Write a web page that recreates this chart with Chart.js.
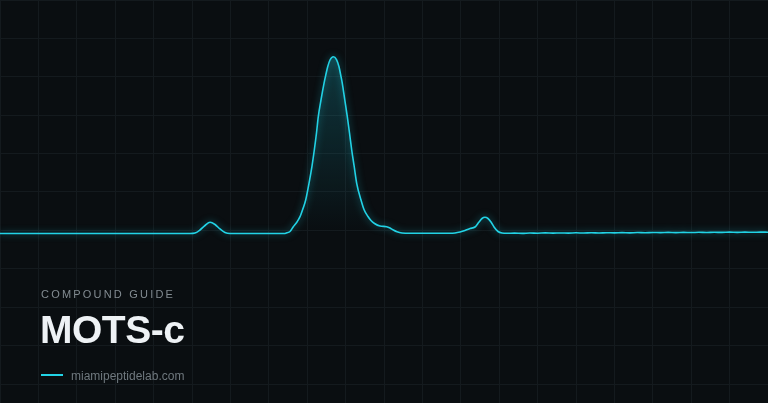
<!DOCTYPE html>
<html>
<head>
<meta charset="utf-8">
<script src="https://cdn.jsdelivr.net/npm/chart.js@4.4.1/dist/chart.umd.min.js"></script>
<style>
  html, body { margin: 0; padding: 0; background: #0a0e11; }
  #wrap { position: relative; width: 768px; height: 403px; overflow: hidden; }
  #chart { position: absolute; left: 0; top: 0; }
  .label { position: absolute; font-family: "Liberation Sans", Arial, sans-serif; white-space: nowrap; }
  #kicker { left: 41px; top: 289px; font-size: 11px; line-height: 11px; letter-spacing: 2.2px; color: #838c92; }
  #title { left: 40px; top: 310px; font-size: 39px; line-height: 39px; font-weight: bold; letter-spacing: -0.5px; color: #eef2f5; }
  #rule { position: absolute; left: 41px; top: 374px; width: 22px; height: 2px; background: #22d3e6; }
  #site { left: 71px; top: 370px; font-size: 12px; line-height: 12px; color: #6f787e; }
</style>
</head>
<body>
<div id="wrap">
  <canvas id="chart" width="768" height="403"></canvas>
  <div class="label" id="kicker">COMPOUND GUIDE</div>
  <div class="label" id="title">MOTS-c</div>
  <div id="rule"></div>
  <div class="label" id="site">miamipeptidelab.com</div>
</div>
<script>
// retention time (min) and detector signal (mAU)
const retentionTimes = [
  0, 2.5, 4.948, 5.078, 5.208, 5.339, 5.469, 5.599, 5.729, 5.859, 5.990,
  7.292, 7.396, 7.474, 7.552, 7.638, 7.734, 7.813, 7.891, 7.961, 8.047, 8.125,
  8.185, 8.242, 8.289, 8.359, 8.438, 8.490, 8.534, 8.594, 8.680, 8.763, 8.828,
  8.872, 8.914, 8.979, 9.044, 9.102, 9.159, 9.224, 9.289, 9.401, 9.479, 9.583,
  9.661, 9.753, 9.896, 10.070, 10.156, 10.242, 10.339, 10.469, 10.677,
  11.719, 11.849, 11.979, 12.109, 12.240, 12.370, 12.474, 12.552, 12.630,
  12.708, 12.786, 12.865, 12.969, 13.073, 13.203,
  13.4, 13.6, 13.8, 14.0, 14.2, 14.4, 14.6, 14.8, 15.0, 15.2, 15.4, 15.6,
  15.8, 16.0, 16.2, 16.4, 16.6, 16.8, 17.0, 17.2, 17.4, 17.6, 17.8, 18.0,
  18.2, 18.4, 18.6, 18.8, 19.0, 19.2, 19.4, 19.6, 19.8, 20.0
]
const signal = [
  -1.61, -1.61, -1.61, -1.35, 0.21, 2.55, 4.22, 3.07, 0.73, -1.09, -1.61,
  -1.61, -1.61, -1.20, -0.57, 1.93, 4.38, 7.14, 11.41, 15.83, 24.53, 33.54,
  41.88, 50.73, 59.22, 67.92, 76.61, 81.46, 85.26, 88.75, 90.47, 89.01, 85.26,
  80.94, 76.61, 67.92, 59.22, 50.73, 41.88, 33.28, 24.53, 15.83, 10.89, 7.24,
  5.16, 3.59, 2.29, 1.93, 1.25, 0.21, -0.73, -1.35, -1.51,
  -1.51, -1.35, -0.83, -0.05, 0.99, 1.77, 4.38, 6.20, 6.82,
  6.20, 4.38, 1.77, -0.57, -1.35, -1.51,
  -1.42, -1.55, -1.38, -1.47, -1.30, -1.44, -1.33, -1.41, -1.26, -1.37, -1.22, -1.34,
  -1.19, -1.29, -1.15, -1.27, -1.12, -1.22, -1.08, -1.18, -1.05, -1.16, -1.02, -1.12,
  -0.99, -1.08, -0.96, -1.05, -0.92, -1.01, -0.90, -0.98, -0.88, -0.94
]
const baselineLevel = -1.61

const points = retentionTimes.map((t, i) => ({ x: t, y: signal[i] }))

const glow = {
  id: "glow",
  beforeDatasetDraw(chart, args) {
    if (args.index !== 1) return
    const ctx = chart.ctx
    ctx.save()
    ctx.shadowColor = "rgba(34, 211, 230, 0.55)"
    ctx.shadowBlur = 7
  },
  afterDatasetDraw(chart, args) {
    if (args.index !== 1) return
    chart.ctx.restore()
  }
}

const ctx = document.getElementById("chart").getContext("2d")

new Chart(ctx, {
  type: "line",
  data: {
    datasets: [
      {
        data: points,
        borderWidth: 0,
        pointRadius: 0,
        cubicInterpolationMode: "monotone",
        fill: { value: baselineLevel },
        backgroundColor: (c) => {
          const area = c.chart.chartArea
          if (!area) return "rgba(34,211,230,0.1)"
          const y = c.chart.scales.y
          const g = c.chart.ctx.createLinearGradient(0, y.getPixelForValue(92), 0, y.getPixelForValue(baselineLevel))
          g.addColorStop(0, "rgba(30, 190, 210, 0.24)")
          g.addColorStop(1, "rgba(30, 190, 210, 0.0)")
          return g
        }
      },
      {
        data: points,
        borderColor: "#22d3e6",
        borderWidth: 1.6,
        pointRadius: 0,
        cubicInterpolationMode: "monotone",
        fill: false
      }
    ]
  },
  options: {
    responsive: false,
    animation: false,
    events: [],
    layout: { padding: 0 },
    plugins: {
      legend: { display: false },
      tooltip: { enabled: false }
    },
    scales: {
      x: {
        type: "linear",
        min: 0,
        max: 20,
        border: { display: false },
        grid: { color: "#141a1e", lineWidth: 1, drawTicks: false },
        ticks: { display: false, stepSize: 1 }
      },
      y: {
        min: 120 - 403 / 1.92,
        max: 120,
        border: { display: false },
        grid: { color: "#141a1e", lineWidth: 1, drawTicks: false },
        ticks: { display: false, stepSize: 20, includeBounds: false }
      }
    }
  },
  plugins: [glow]
})
</script>
</body>
</html>
